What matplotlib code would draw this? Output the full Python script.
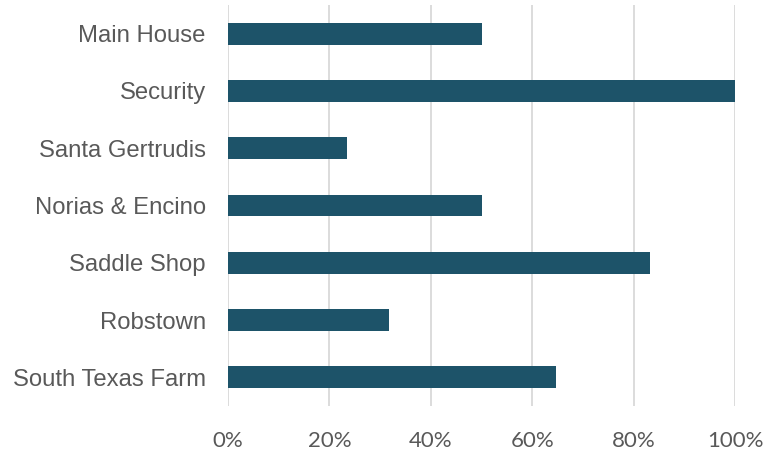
import matplotlib.pyplot as plt
from matplotlib.ticker import PercentFormatter

# share of each site, top to bottom
sites = ["Main House", "Security", "Santa Gertrudis", "Norias & Encino",
         "Saddle Shop", "Robstown", "South Texas Farm"]
shares = [50.0, 100.0, 23.5, 50.0, 83.3, 31.8, 64.7]

bar_color = "#1D5369"
text_color = "#595959"

fig = plt.figure(figsize=(7.67, 4.51), dpi=100)
ax = fig.add_axes([0.2973, 0.0998, 0.661, 0.889])

pos = list(range(len(sites)))
ax.barh(pos, shares, height=0.38, color=bar_color, zorder=3)
ax.set_yticks(pos)
ax.set_yticklabels(sites, fontsize=17.2, color=text_color, family="Liberation Sans")
ax.set_ylim(len(sites) - 0.5, -0.5)

ax.set_xlim(0, 100)
ax.set_xticks([0, 20, 40, 60, 80, 100])
ax.xaxis.set_major_formatter(PercentFormatter(decimals=0))
for lab in ax.get_xticklabels():
    lab.set_fontsize(16)
    lab.set_color(text_color)
    lab.set_family("Lato")

ax.grid(axis="x", color="#D9D9D9", linewidth=1.3, zorder=0)
ax.tick_params(axis="x", length=0, pad=18)
ax.tick_params(axis="y", length=0, pad=16)
for s in ax.spines.values():
    s.set_visible(False)

fig.savefig("out.png", dpi=100)
